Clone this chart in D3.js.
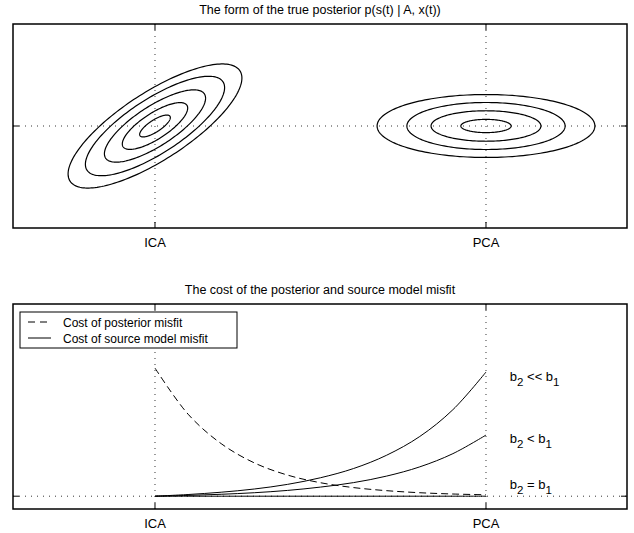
<!DOCTYPE html>
<html>
<head>
<meta charset="utf-8">
<script src="https://cdn.jsdelivr.net/npm/d3@7"></script>
<style>
  body { margin: 0; background: #fff; }
  text { font-family: "Liberation Sans", Arial, sans-serif; fill: #000; }
</style>
</head>
<body>
<svg id="chart"></svg>
<script>
// x positions: 0 = ICA, 1 = PCA
const xTicks = [0, 1];
const xTickLabels = ['ICA', 'PCA'];

// contour ellipses of the posterior (semi axes in x units, angle in degrees)
const icaEllipseA = [0.306, 0.245, 0.178, 0.115, 0.054];
const icaEllipseB = [0.102, 0.082, 0.060, 0.039, 0.018];
const icaAngle = 33;
const pcaEllipseA = [0.329, 0.239, 0.166, 0.076];
const pcaEllipseB = [0.095, 0.071, 0.046, 0.020];
const pcaAngle = 0;

// cost curves sampled from ICA to PCA
const tSteps = [0, 0.1, 0.2, 0.3, 0.4, 0.5, 0.6, 0.7, 0.8, 0.9, 1];
const posteriorCost = [1, 0.64, 0.41, 0.26, 0.165, 0.105, 0.067, 0.043, 0.027, 0.017, 0.011];
const sourceCostMuchLess = [0, 0.013, 0.031, 0.056, 0.092, 0.144, 0.216, 0.320, 0.466, 0.675, 0.969];
const sourceCostLess = [0, 0.006, 0.015, 0.027, 0.045, 0.071, 0.106, 0.157, 0.229, 0.332, 0.477];
const sourceCostEqual = [0, 0, 0, 0, 0, 0, 0, 0, 0, 0, 0];

const curveLabels = [
    { rel: ' << ', v: 0.90 },
    { rel: ' < ', v: 0.414 },
    { rel: ' = ', v: 0.055 }
];

const width = 634, height = 533;
const left = 13, right = 627;

const svg = d3.select('#chart').attr('width', width).attr('height', height);

const x = d3.scaleLinear().domain([-0.429, 1.426]).range([left, right]);

function panel(top, bottom, yScale, title) {
    const g = svg.append('g');

    // dotted grid at ticks
    g.selectAll('.vgrid').data(xTicks).enter().append('line')
        .attr('x1', d => x(d)).attr('x2', d => x(d))
        .attr('y1', top).attr('y2', bottom)
        .attr('stroke', '#000').attr('stroke-width', 0.8)
        .attr('stroke-dasharray', '1,5');
    g.append('line')
        .attr('x1', left).attr('x2', right)
        .attr('y1', yScale(0)).attr('y2', yScale(0))
        .attr('stroke', '#000').attr('stroke-width', 0.8)
        .attr('stroke-dasharray', '1,5');

    g.append('text')
        .attr('x', (left + right) / 2).attr('y', top - 10)
        .attr('text-anchor', 'middle').attr('font-size', 12.5)
        .text(title);

    g.selectAll('.xlab').data(xTicks).enter().append('text')
        .attr('x', d => x(d)).attr('y', bottom + 19)
        .attr('text-anchor', 'middle').attr('font-size', 13)
        .text((d, i) => xTickLabels[i]);
    return g;
}

function frame(top, bottom, yScale) {
    const g = svg.append('g');
    g.append('rect')
        .attr('x', left).attr('y', top)
        .attr('width', right - left).attr('height', bottom - top)
        .attr('fill', 'none').attr('stroke', '#000').attr('stroke-width', 1.5);
    xTicks.forEach(t => {
        g.append('line').attr('x1', x(t)).attr('x2', x(t)).attr('y1', bottom).attr('y2', bottom - 6)
            .attr('stroke', '#000');
        g.append('line').attr('x1', x(t)).attr('x2', x(t)).attr('y1', top).attr('y2', top + 6)
            .attr('stroke', '#000');
    });
    g.append('line').attr('x1', left).attr('x2', left + 6).attr('y1', yScale(0)).attr('y2', yScale(0))
        .attr('stroke', '#000');
    g.append('line').attr('x1', right).attr('x2', right - 6).attr('y1', yScale(0)).attr('y2', yScale(0))
        .attr('stroke', '#000');
}

// ---- top panel
const top1 = 24, bot1 = 228;
const y1 = d3.scaleLinear().domain([-0.308, 0.308]).range([bot1, top1]);
const g1 = panel(top1, bot1, y1, 'The form of the true posterior p(s(t) | A, x(t))');

const ellipses = [];
icaEllipseA.forEach((a, i) => ellipses.push({ cx: 0, a: a, b: icaEllipseB[i], angle: icaAngle }));
pcaEllipseA.forEach((a, i) => ellipses.push({ cx: 1, a: a, b: pcaEllipseB[i], angle: pcaAngle }));

const ellipseLine = d3.line().x(p => x(p[0])).y(p => y1(p[1])).curve(d3.curveLinearClosed);
g1.selectAll('.ellipse').data(ellipses).enter().append('path')
    .attr('d', e => {
        const th = e.angle * Math.PI / 180;
        const pts = d3.range(0, 2 * Math.PI, Math.PI / 90).map(t => [
            e.cx + e.a * Math.cos(t) * Math.cos(th) - e.b * Math.sin(t) * Math.sin(th),
            e.a * Math.cos(t) * Math.sin(th) + e.b * Math.sin(t) * Math.cos(th)
        ]);
        return ellipseLine(pts);
    })
    .attr('fill', 'none').attr('stroke', '#000').attr('stroke-width', 1.2);

frame(top1, bot1, y1);

// ---- bottom panel
const top2 = 304, bot2 = 509;
const y2 = d3.scaleLinear().domain([-0.1, 1.5]).range([bot2, top2]);
const g2 = panel(top2, bot2, y2, 'The cost of the posterior and source model misfit');

const costLine = d3.line().x((d, i) => x(tSteps[i])).y(d => y2(d)).curve(d3.curveCatmullRom);

[sourceCostMuchLess, sourceCostLess, sourceCostEqual].forEach(s => {
    g2.append('path').attr('d', costLine(s))
        .attr('fill', 'none').attr('stroke', '#000').attr('stroke-width', 1);
});
g2.append('path').attr('d', costLine(posteriorCost))
    .attr('fill', 'none').attr('stroke', '#000').attr('stroke-width', 1)
    .attr('stroke-dasharray', '7,4');

curveLabels.forEach(l => {
    const t = g2.append('text').attr('x', x(1.072)).attr('y', y2(l.v)).attr('font-size', 13);
    t.append('tspan').text('b');
    t.append('tspan').attr('dy', 5).attr('font-size', 11.5).text('2');
    t.append('tspan').attr('dy', -5).text(l.rel + 'b');
    t.append('tspan').attr('dy', 5).attr('font-size', 11.5).text('1');
});

frame(top2, bot2, y2);

// legend
const leg = svg.append('g');
leg.append('rect').attr('x', 20).attr('y', 312).attr('width', 217).attr('height', 36)
    .attr('fill', '#fff').attr('stroke', '#000').attr('stroke-width', 1);
const legendItems = ['Cost of posterior misfit', 'Cost of source model misfit'];
legendItems.forEach((label, i) => {
    const yy = 322 + i * 16;
    leg.append('line').attr('x1', 28).attr('x2', 51).attr('y1', yy).attr('y2', yy)
        .attr('stroke', '#000').attr('stroke-width', 1)
        .attr('stroke-dasharray', i === 0 ? '7,5' : null);
    leg.append('text').attr('x', 63).attr('y', yy + 4.5).attr('font-size', 12).text(label);
});
</script>
</body>
</html>
